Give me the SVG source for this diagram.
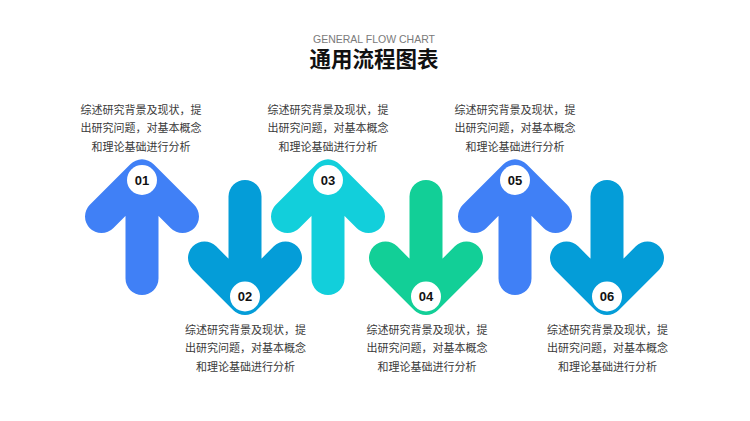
<svg xmlns="http://www.w3.org/2000/svg" width="750" height="421" viewBox="0 0 750 421">
<defs>
<style>
.arr{fill:none;stroke-width:33;stroke-linecap:round;stroke-linejoin:round}
.c1{stroke:#4080F6}
.c2{stroke:#049DD8}
.c3{stroke:#12CFDB}
.c4{stroke:#12CF97}
.dot{fill:#FFFFFF}
.num{font-family:"Liberation Sans",Arial,sans-serif;font-size:13px;font-weight:bold;fill:#111111;text-anchor:middle}
.desc{font-family:"Liberation Sans","Noto Sans CJK SC",sans-serif;font-size:11px;fill:#3A3A3A;text-anchor:middle}
</style>
</defs>
<rect width="750" height="421" fill="#FFFFFF"/>
<g id="title">
<text x="374" y="43" font-family="'Liberation Sans',Arial,sans-serif" font-size="10.5" fill="#7A7A7A" text-anchor="middle">GENERAL FLOW CHART</text>
<text x="374" y="66.5" font-family="'Liberation Sans','Noto Sans CJK SC',sans-serif" font-size="21.5" font-weight="bold" fill="#111111" text-anchor="middle">通用流程图表</text>
</g>
<g id="connectors"/>
<g id="node01">
<path class="arr c1" d="M101.5 216.5 L142 176 L182.5 216.5 M142 176 V278.5"/>
<circle class="dot" cx="142" cy="180" r="15"/>
<text class="num" x="142" y="184.7">01</text>
<text class="desc" x="141" y="113.5">综述研究背景及现状，提</text>
<text class="desc" x="141" y="132.3">出研究问题，对基本概念</text>
<text class="desc" x="141" y="150.8">和理论基础进行分析</text>
</g>
<g id="node02">
<path class="arr c2" d="M204.5 258 L245 298.5 L285.5 258 M245 298.5 V196.5"/>
<circle class="dot" cx="245" cy="296.5" r="15"/>
<text class="num" x="245" y="301.2">02</text>
<text class="desc" x="245.5" y="333.8">综述研究背景及现状，提</text>
<text class="desc" x="245.5" y="352.3">出研究问题，对基本概念</text>
<text class="desc" x="245.5" y="370.8">和理论基础进行分析</text>
</g>
<g id="node03">
<path class="arr c3" d="M287.5 216.5 L328 176 L368.5 216.5 M328 176 V278.5"/>
<circle class="dot" cx="328" cy="180" r="15"/>
<text class="num" x="328" y="184.7">03</text>
<text class="desc" x="328" y="113.5">综述研究背景及现状，提</text>
<text class="desc" x="328" y="132.3">出研究问题，对基本概念</text>
<text class="desc" x="328" y="150.8">和理论基础进行分析</text>
</g>
<g id="node04">
<path class="arr c4" d="M385.5 258 L426 298.5 L466.5 258 M426 298.5 V196.5"/>
<circle class="dot" cx="426" cy="296.5" r="15"/>
<text class="num" x="426" y="301.2">04</text>
<text class="desc" x="427" y="333.8">综述研究背景及现状，提</text>
<text class="desc" x="427" y="352.3">出研究问题，对基本概念</text>
<text class="desc" x="427" y="370.8">和理论基础进行分析</text>
</g>
<g id="node05">
<path class="arr c1" d="M474.5 216.5 L515 176 L555.5 216.5 M515 176 V278.5"/>
<circle class="dot" cx="515" cy="180" r="15"/>
<text class="num" x="515" y="184.7">05</text>
<text class="desc" x="515" y="113.5">综述研究背景及现状，提</text>
<text class="desc" x="515" y="132.3">出研究问题，对基本概念</text>
<text class="desc" x="515" y="150.8">和理论基础进行分析</text>
</g>
<g id="node06">
<path class="arr c2" d="M566.5 258 L607 298.5 L647.5 258 M607 298.5 V196.5"/>
<circle class="dot" cx="607" cy="296.5" r="15"/>
<text class="num" x="607" y="301.2">06</text>
<text class="desc" x="607.5" y="333.8">综述研究背景及现状，提</text>
<text class="desc" x="607.5" y="352.3">出研究问题，对基本概念</text>
<text class="desc" x="607.5" y="370.8">和理论基础进行分析</text>
</g>
</svg>
